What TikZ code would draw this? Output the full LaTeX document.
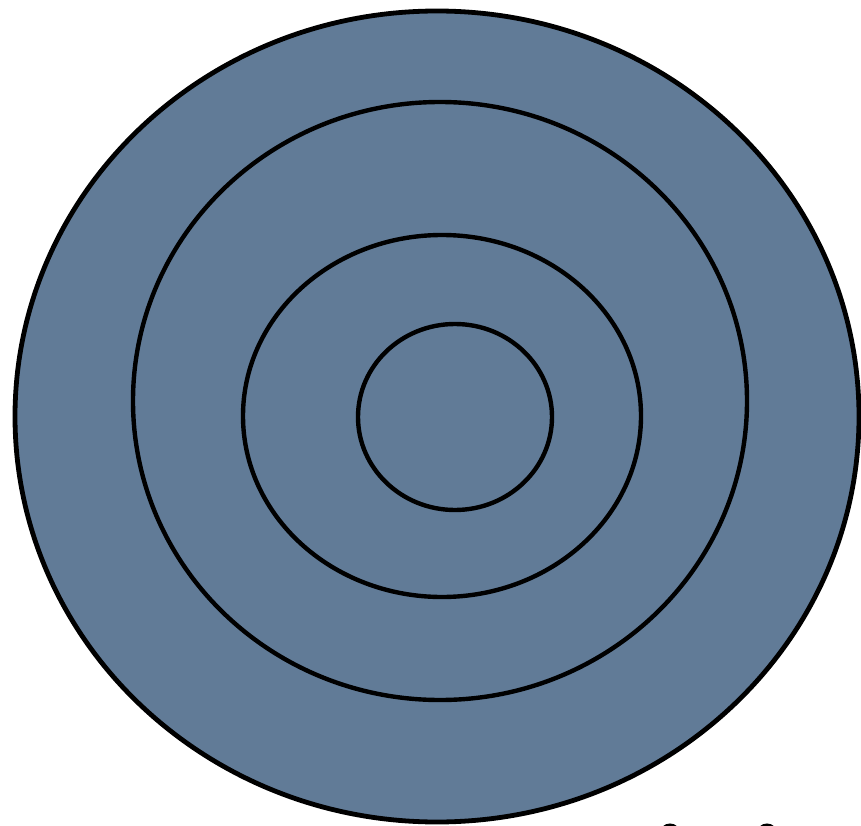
\documentclass[tikz,border=0pt]{standalone}
\definecolor{slate}{RGB}{97,123,151}
\begin{document}
\begin{tikzpicture}[x=1pt,y=-1pt,
  ring/.style={draw=black,line width=4.4pt},
  capmark/.style={draw=black,line width=5pt}]
\useasboundingbox (0,0) rectangle (861,826);
\clip (0,0) rectangle (861,826);
\path[ring,fill=slate,line width=4.8pt] (437,416.5) ellipse [x radius=422,y radius=405.5];
\path[ring] (440,401) ellipse [x radius=307,y radius=299];
\path[ring] (442,416) ellipse [x radius=199,y radius=181];
\path[ring] (455,417) ellipse [x radius=97,y radius=93];
\path[capmark] (670,834) ellipse [x radius=8,y radius=8];
\path[capmark] (767,834) ellipse [x radius=8,y radius=8];
\end{tikzpicture}
\end{document}
